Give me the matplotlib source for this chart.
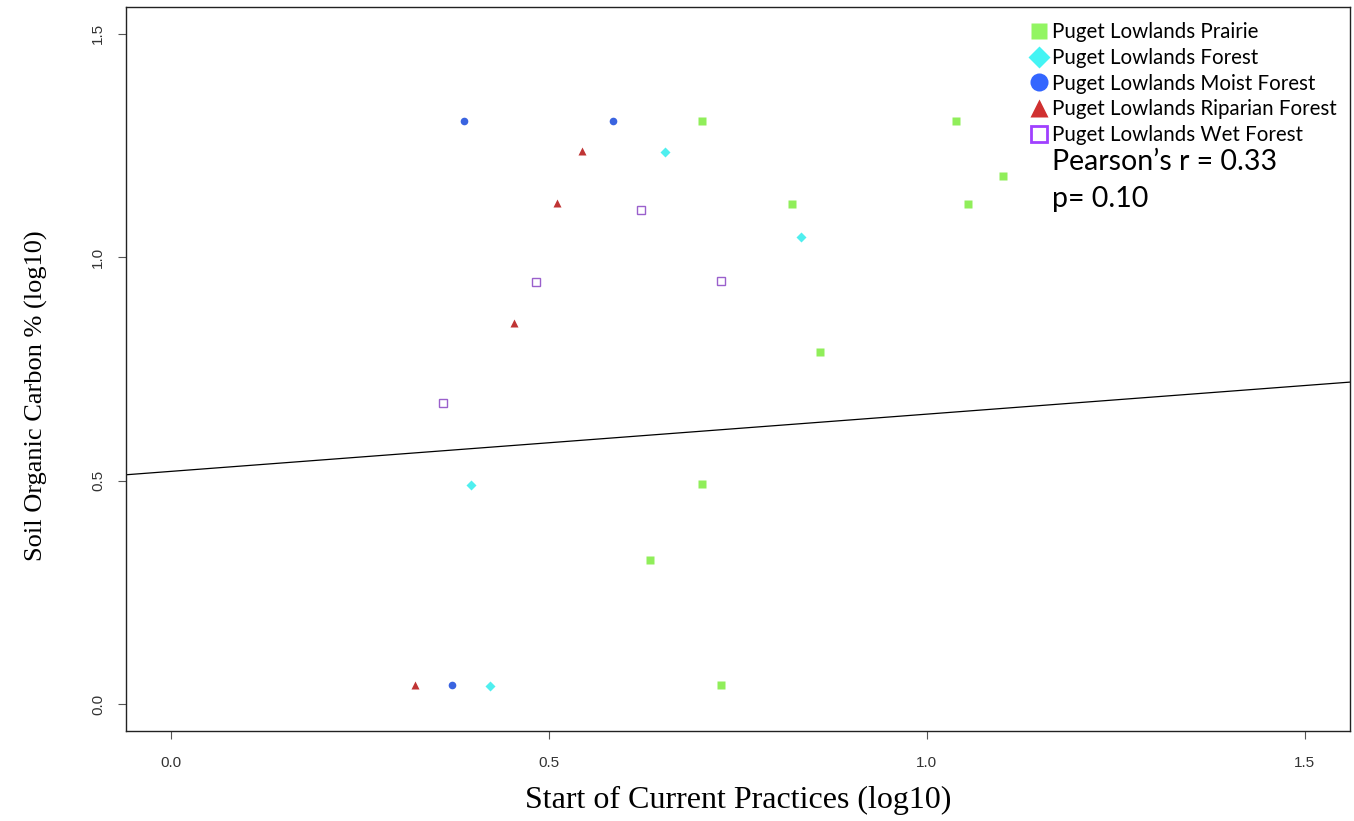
import matplotlib
matplotlib.use("Agg")
import matplotlib.pyplot as plt
from matplotlib.lines import Line2D

# ---- data ----
prairie_x = [0.703, 1.039, 0.821, 1.054, 1.101, 0.858, 0.702, 0.633, 0.727]
prairie_y = [1.305, 1.305, 1.119, 1.119, 1.182, 0.787, 0.493, 0.323, 0.043]

forest_x = [0.653, 0.834, 0.396, 0.422]
forest_y = [1.235, 1.045, 0.491, 0.040]

moist_x = [0.388, 0.584, 0.371]
moist_y = [1.305, 1.305, 0.043]

riparian_x = [0.543, 0.511, 0.454, 0.322]
riparian_y = [1.238, 1.121, 0.854, 0.043]

wet_x = [0.622, 0.483, 0.727, 0.360]
wet_y = [1.105, 0.944, 0.948, 0.673]

reg_intercept = 0.521
reg_slope = 0.128

series_labels = ["Puget Lowlands Prairie", "Puget Lowlands Forest",
                 "Puget Lowlands Moist Forest", "Puget Lowlands Riparian Forest",
                 "Puget Lowlands Wet Forest"]
x_ticks = [0.0, 0.5, 1.0, 1.5]
y_ticks = [0.0, 0.5, 1.0, 1.5]
stats_text = ["Pearson\u2019s r = 0.33", "p= 0.10"]

# ---- figure ----
W, H = 1354, 821
fig = plt.figure(figsize=(W / 100, H / 100), dpi=100)
ax = fig.add_axes([126 / W, 1 - 731 / H, (1350 - 126) / W, (731 - 7) / H])

green = "#90EE5A"
cyan = "#4FEFEF"
blue = "#3A64E0"
red = "#C03434"
purple_d = "#9A60CC"

ms = 5.5
ax.plot(prairie_x, prairie_y, "s", color=green, ms=ms, mec="none")
ax.plot(forest_x, forest_y, "D", color=cyan, ms=ms * 0.85, mec="none")
ax.plot(moist_x, moist_y, "o", color=blue, ms=ms, mec="none")
ax.plot(riparian_x, riparian_y, "^", color=red, ms=ms * 1.1, mec="none")
ax.plot(wet_x, wet_y, "s", mfc="white", mec=purple_d, ms=ms * 1.15, mew=1.0)

ax.axline((0, reg_intercept), slope=reg_slope, color="black", lw=0.9)

ax.set_xlim(-0.06, 1.56)
ax.set_ylim(-0.06, 1.56)
ax.set_xticks(x_ticks)
ax.set_yticks(y_ticks)
ax.set_xticklabels([f"{v:.1f}" for v in x_ticks], fontsize=11, color="#333333",
                   family="Liberation Sans")
ax.set_yticklabels([f"{v:.1f}" for v in y_ticks], fontsize=11, color="#333333",
                   family="Liberation Sans", rotation=90, va="center")
ax.tick_params(axis="x", length=6, width=0.8, color="#555555", pad=12)
ax.tick_params(axis="y", length=6, width=0.8, color="#555555", pad=9)
for s in ax.spines.values():
    s.set_linewidth(1.0)
    s.set_color("#222222")

ax.set_xlabel("Start of Current Practices (log10)", family="Liberation Serif",
              fontsize=23)
ax.xaxis.set_label_coords(0.5, -(800 - 731) / (731 - 7), transform=ax.transAxes)
ax.xaxis.label.set_va("center")
ax.set_ylabel("Soil Organic Carbon % (log10)", family="Liberation Serif",
              fontsize=19)
ax.yaxis.set_label_coords(-(126 - 36) / (1350 - 126), 1 - (396 - 7) / (731 - 7),
                          transform=ax.transAxes)
ax.yaxis.label.set_va("center")

# legend
handles = [
    Line2D([], [], ls="none", marker="s", color="#92F562", ms=12, mec="none"),
    Line2D([], [], ls="none", marker="D", color="#44F4F4", ms=11, mec="none"),
    Line2D([], [], ls="none", marker="o", color="#3366FF", ms=13, mec="none"),
    Line2D([], [], ls="none", marker="^", color="#D03030", ms=13, mec="none"),
    Line2D([], [], ls="none", marker="s", mfc="white", mec="#A040FF", ms=11, mew=2),
]
leg = ax.legend(handles, series_labels, loc="upper left",
                bbox_to_anchor=((1029 - 126) / (1350 - 126), 1 - (22 - 7) / (731 - 7)),
                frameon=False, prop={"family": "Lato", "size": 14.8},
                handlelength=1.0, handletextpad=0.1, labelspacing=0.28,
                borderaxespad=0, borderpad=0)

fig.text(1052 / W, 1 - 162 / H, stats_text[0], family="Lato", fontsize=20.5,
         va="center", ha="left")
fig.text(1052 / W, 1 - 199 / H, stats_text[1], family="Lato", fontsize=20.5,
         va="center", ha="left")

fig.savefig("out.png", dpi=100)
